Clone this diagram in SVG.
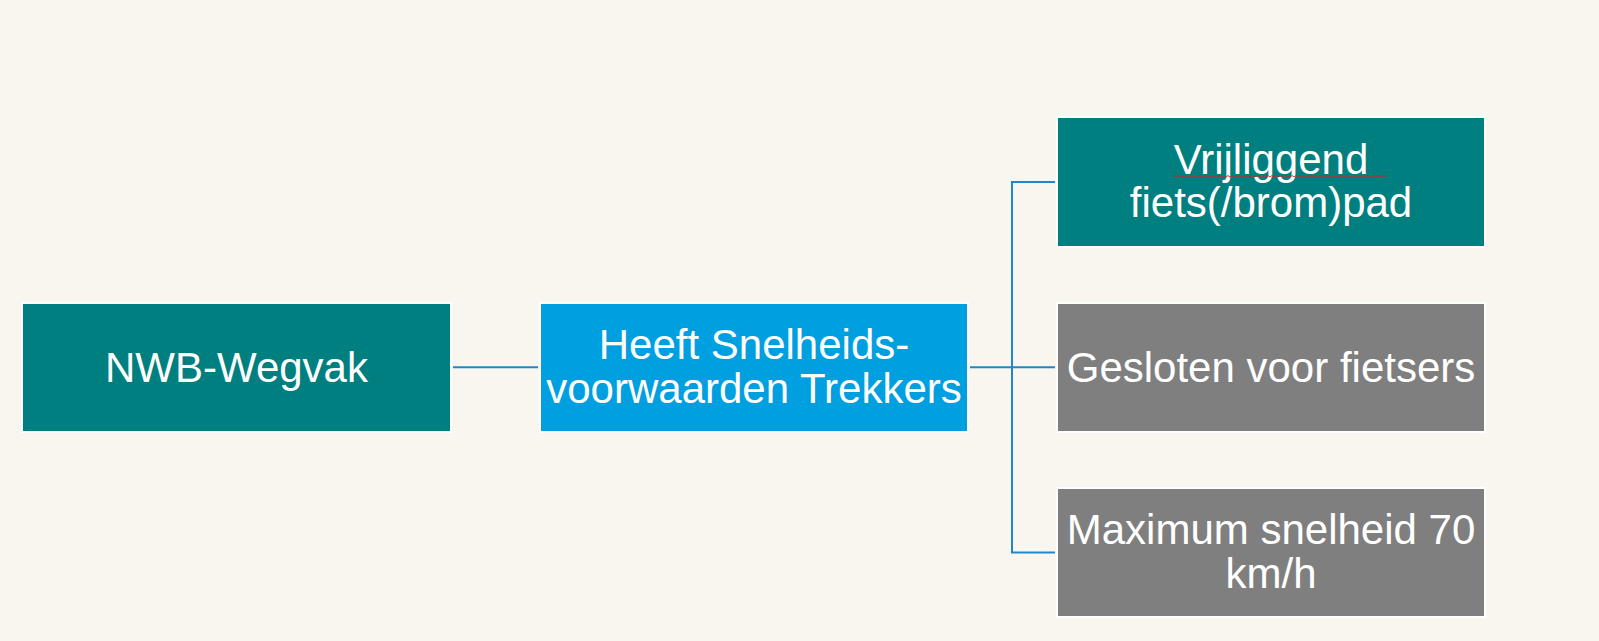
<svg xmlns="http://www.w3.org/2000/svg" width="1599" height="641" viewBox="0 0 1599 641">
<style>
.box{stroke:#FFFFFF;stroke-width:2}
.teal{fill:#007F80}
.blue{fill:#009FE0}
.gray{fill:#7F7F7F}
.lbl{font-family:"Liberation Sans",Arial,sans-serif;font-size:42px;fill:#FFFFFF;text-anchor:middle}
.conn{stroke:#1F88CA;stroke-width:2;fill:none}
</style>
<rect x="0" y="0" width="1599" height="641" fill="#F9F6F0"/>
<g id="connectors">
<line class="conn" x1="453" y1="367.3" x2="538" y2="367.3"/>
<line class="conn" x1="970" y1="367.3" x2="1055" y2="367.3"/>
<line class="conn" x1="1012" y1="182" x2="1012" y2="552.5"/>
<line class="conn" x1="1011" y1="182" x2="1055" y2="182"/>
<line class="conn" x1="1011" y1="552.5" x2="1055" y2="552.5"/>
</g>
<g id="node-nwb">
<rect class="box teal" x="22" y="303" width="429" height="129"/>
<text class="lbl" x="236.5" y="382">NWB-Wegvak</text>
</g>
<g id="node-snelheid">
<rect class="box blue" x="540" y="303" width="428" height="129"/>
<text class="lbl" x="754" y="359">Heeft Snelheids-</text>
<text class="lbl" x="754" y="403">voorwaarden Trekkers</text>
</g>
<g id="node-fietspad">
<rect class="box teal" x="1057" y="117" width="428" height="130"/>
<text class="lbl" x="1271" y="173.5">Vrijliggend</text>
<text class="lbl" x="1271" y="217">fiets(/brom)pad</text>
<path d="M1174 177 l2 -1.5 l2 1.5 l2 -1.5 l2 1.5 l2 -1.5 l2 1.5 l2 -1.5 l2 1.5 l2 -1.5 l2 1.5 l2 -1.5 l2 1.5 l2 -1.5 l2 1.5 l2 -1.5 l2 1.5 l2 -1.5 l2 1.5 l2 -1.5 l2 1.5 l2 -1.5 l2 1.5 l2 -1.5 l2 1.5 l2 -1.5 l2 1.5 l2 -1.5 l2 1.5 l2 -1.5 l2 1.5 l2 -1.5 l2 1.5 l2 -1.5 l2 1.5 l2 -1.5 l2 1.5 l2 -1.5 l2 1.5 l2 -1.5 l2 1.5 l2 -1.5 l2 1.5 l2 -1.5 l2 1.5 l2 -1.5 l2 1.5 l2 -1.5 l2 1.5 l2 -1.5 l2 1.5 l2 -1.5 l2 1.5 l2 -1.5 l2 1.5 l2 -1.5 l2 1.5 l2 -1.5 l2 1.5 l2 -1.5 l2 1.5 l2 -1.5 l2 1.5 l2 -1.5 l2 1.5 l2 -1.5 l2 1.5 l2 -1.5 l2 1.5 l2 -1.5 l2 1.5 l2 -1.5 l2 1.5 l2 -1.5 l2 1.5 l2 -1.5 l2 1.5 l2 -1.5 l2 1.5 l2 -1.5 l2 1.5 l2 -1.5 l2 1.5 l2 -1.5 l2 1.5 l2 -1.5 l2 1.5 l2 -1.5 l2 1.5 l2 -1.5 l2 1.5 l2 -1.5 l2 1.5 l2 -1.5 l2 1.5 l2 -1.5 l2 1.5 l2 -1.5 l2 1.5 l2 -1.5 l2 1.5 l2 -1.5 l2 1.5 l2 -1.5 l2 1.5 l2 -1.5 l2 1.5" fill="none" stroke="#E02020" stroke-width="0.9"/>
</g>
<g id="node-gesloten">
<rect class="box gray" x="1057" y="303" width="428" height="129"/>
<text class="lbl" x="1271" y="382">Gesloten voor fietsers</text>
</g>
<g id="node-maxsnelheid">
<rect class="box gray" x="1057" y="488" width="428" height="129"/>
<text class="lbl" x="1271" y="544">Maximum snelheid 70</text>
<text class="lbl" x="1271" y="588">km/h</text>
</g>
</svg>
